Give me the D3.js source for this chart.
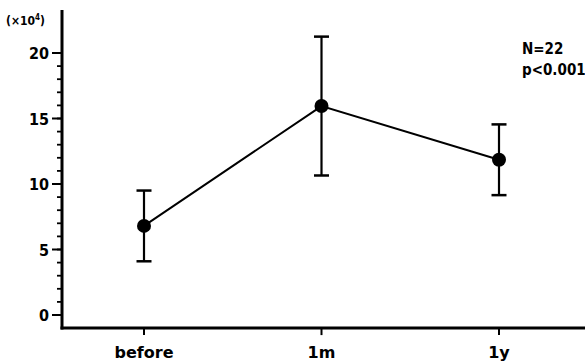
<!DOCTYPE html>
<html>
<head>
<meta charset="utf-8">
<script src="https://cdn.jsdelivr.net/npm/d3@7"></script>
<style>
  body { margin: 0; background: #fff; }
  svg { display: block; }
  .lbl { font-family: 'DejaVu Sans Condensed', 'DejaVu Sans', sans-serif; font-stretch: condensed; font-weight: bold; fill: #000; }
  .xl { font-family: 'DejaVu Sans', sans-serif; font-weight: bold; fill: #000; }
</style>
</head>
<body>
<svg id="chart" width="585" height="364"></svg>
<script>
// data
const periods = ['before', '1m', '1y'];
const means = [6.8, 15.95, 11.85];
const sds = [2.7, 5.3, 2.7];
const yTicks = [0, 5, 10, 15, 20];
const notes = ['N=22', 'p<0.001'];

const width = 585;
const height = 364;

const svg = d3.select('#chart');

const x = d3.scalePoint().domain(periods).range([144, 499]);
const y = d3.scaleLinear().domain([0, 20]).range([315, 53]);

const axisX = 62;
const axisY = y(-1);

// y axis line
svg.append('line')
  .attr('x1', axisX).attr('x2', axisX)
  .attr('y1', 10).attr('y2', axisY + 1.5)
  .attr('stroke', '#000').attr('stroke-width', 3);

// x axis line
svg.append('line')
  .attr('x1', axisX - 1.5).attr('x2', width)
  .attr('y1', axisY).attr('y2', axisY)
  .attr('stroke', '#000').attr('stroke-width', 3);

// minor ticks every 1
svg.selectAll('.minor')
  .data(d3.range(0, 21))
  .enter().append('line')
  .attr('x1', axisX - 5).attr('x2', axisX)
  .attr('y1', function(d) { return y(d); })
  .attr('y2', function(d) { return y(d); })
  .attr('stroke', '#000').attr('stroke-width', 1.8);

// major ticks + labels
svg.selectAll('.major')
  .data(yTicks)
  .enter().append('line')
  .attr('x1', axisX - 10).attr('x2', axisX)
  .attr('y1', function(d) { return y(d); })
  .attr('y2', function(d) { return y(d); })
  .attr('stroke', '#000').attr('stroke-width', 2);

svg.selectAll('.ylbl')
  .data(yTicks)
  .enter().append('text')
  .attr('class', 'lbl')
  .attr('x', 49)
  .attr('y', function(d) { return y(d) + 6; })
  .attr('text-anchor', 'end')
  .attr('font-size', 16)
  .text(function(d) { return d; });

// unit label
const unit = svg.append('text')
  .attr('class', 'lbl')
  .attr('x', 6).attr('y', 25)
  .attr('font-size', 12);
unit.append('tspan').text('(×10');
unit.append('tspan').attr('dy', -5).attr('font-size', 8).text('4');
unit.append('tspan').attr('dy', 5).text(')');

// x ticks + labels
svg.selectAll('.xtick')
  .data(periods)
  .enter().append('line')
  .attr('x1', function(d) { return x(d); })
  .attr('x2', function(d) { return x(d); })
  .attr('y1', axisY).attr('y2', axisY + 7)
  .attr('stroke', '#000').attr('stroke-width', 2);

svg.selectAll('.xlbl')
  .data(periods)
  .enter().append('text')
  .attr('class', 'xl')
  .attr('x', function(d) { return x(d); })
  .attr('y', 358)
  .attr('text-anchor', 'middle')
  .attr('font-size', 16)
  .text(function(d) { return d; });

const pts = periods.map(function(p, i) { return { p: p, m: means[i], sd: sds[i] }; });

// error bars
svg.selectAll('.err')
  .data(pts)
  .enter().append('line')
  .attr('x1', function(d) { return x(d.p); })
  .attr('x2', function(d) { return x(d.p); })
  .attr('y1', function(d) { return y(d.m + d.sd); })
  .attr('y2', function(d) { return y(d.m - d.sd); })
  .attr('stroke', '#000').attr('stroke-width', 2.2);

svg.selectAll('.capTop')
  .data(pts)
  .enter().append('line')
  .attr('x1', function(d) { return x(d.p) - 7.5; })
  .attr('x2', function(d) { return x(d.p) + 7.5; })
  .attr('y1', function(d) { return y(d.m + d.sd); })
  .attr('y2', function(d) { return y(d.m + d.sd); })
  .attr('stroke', '#000').attr('stroke-width', 2.5);

svg.selectAll('.capBot')
  .data(pts)
  .enter().append('line')
  .attr('x1', function(d) { return x(d.p) - 7.5; })
  .attr('x2', function(d) { return x(d.p) + 7.5; })
  .attr('y1', function(d) { return y(d.m - d.sd); })
  .attr('y2', function(d) { return y(d.m - d.sd); })
  .attr('stroke', '#000').attr('stroke-width', 2.5);

// mean line
const line = d3.line()
  .x(function(d) { return x(d.p); })
  .y(function(d) { return y(d.m); });

svg.append('path')
  .datum(pts)
  .attr('d', line)
  .attr('fill', 'none')
  .attr('stroke', '#000')
  .attr('stroke-width', 2);

svg.selectAll('.dot')
  .data(pts)
  .enter().append('circle')
  .attr('cx', function(d) { return x(d.p); })
  .attr('cy', function(d) { return y(d.m); })
  .attr('r', 7)
  .attr('fill', '#000');

// annotation
svg.selectAll('.note')
  .data(notes)
  .enter().append('text')
  .attr('class', 'lbl')
  .attr('x', 522)
  .attr('y', function(d, i) { return 54 + i * 21; })
  .attr('font-size', 15)
  .text(function(d) { return d; });
</script>
</body>
</html>
